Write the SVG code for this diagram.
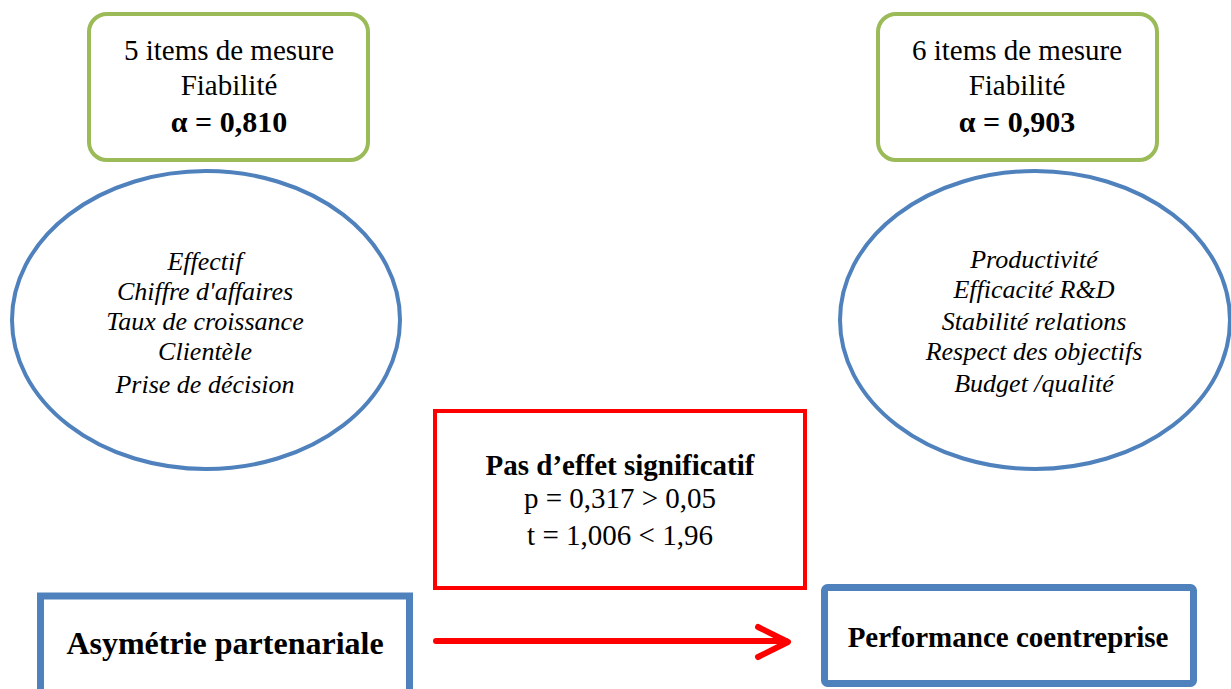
<svg xmlns="http://www.w3.org/2000/svg" width="1231" height="689" viewBox="0 0 1231 689">
  <style>
    .rel { fill: #ffffff; stroke: #9bbb59; stroke-width: 4; }
    .ell { fill: #ffffff; stroke: #4f81bd; stroke-width: 4; }
    .var { fill: #ffffff; stroke: #4f81bd; stroke-width: 7; }
    .res { fill: #ffffff; stroke: #ff0000; stroke-width: 4; }
    text { font-family: "Liberation Serif", "Times New Roman", serif; fill: #000000; text-anchor: middle; }
    .t { font-size: 29px; }
    .b { font-size: 29px; font-weight: bold; }
    .a { font-size: 30px; font-weight: bold; }
    .i { font-size: 26px; font-style: italic; }
    .big { font-size: 32px; font-weight: bold; }
    .mid { font-size: 29px; font-weight: bold; }
    .link { fill: none; stroke: #ff0000; stroke-width: 6; stroke-linecap: round; stroke-linejoin: round; }
  </style>

  <g id="fiabilite-asymetrie">
    <rect class="rel" x="89" y="14" width="279" height="146" rx="18"/>
    <text class="t" x="229" y="60">5 items de mesure</text>
    <text class="t" x="229" y="95">Fiabilité</text>
    <text class="a" x="229" y="132">α = 0,810</text>
  </g>

  <g id="fiabilite-performance">
    <rect class="rel" x="878" y="14" width="279" height="146" rx="18"/>
    <text class="t" x="1017" y="60">6 items de mesure</text>
    <text class="t" x="1017" y="95">Fiabilité</text>
    <text class="a" x="1017" y="132">α = 0,903</text>
  </g>

  <g id="items-asymetrie">
    <ellipse class="ell" cx="206" cy="320" rx="194" ry="149"/>
    <text class="i" x="205" y="270">Effectif</text>
    <text class="i" x="205" y="300">Chiffre d'affaires</text>
    <text class="i" x="205" y="330">Taux de croissance</text>
    <text class="i" x="205" y="360">Clientèle</text>
    <text class="i" x="205" y="393">Prise de décision</text>
  </g>

  <g id="items-performance">
    <ellipse class="ell" cx="1035" cy="320" rx="195" ry="149"/>
    <text class="i" x="1034" y="268">Productivité</text>
    <text class="i" x="1034" y="298">Efficacité R&amp;D</text>
    <text class="i" x="1034" y="330">Stabilité relations</text>
    <text class="i" x="1034" y="360">Respect des objectifs</text>
    <text class="i" x="1034" y="392">Budget /qualité</text>
  </g>

  <g id="resultat">
    <rect class="res" x="435" y="411" width="370" height="177"/>
    <text class="b" x="620" y="475">Pas d’effet significatif</text>
    <text class="t" x="620" y="508">p = 0,317 &gt; 0,05</text>
    <text class="t" x="620" y="545">t = 1,006 &lt; 1,96</text>
  </g>

  <g id="asymetrie">
    <rect class="var" x="40.5" y="596" width="369" height="100"/>
    <text class="big" x="225" y="654">Asymétrie partenariale</text>
  </g>

  <g id="performance">
    <rect class="var" x="824.5" y="587.5" width="369" height="96" rx="3"/>
    <text class="mid" x="1008" y="647">Performance coentreprise</text>
  </g>

  <g id="connectors">
    <path class="link" d="M436 641 H786"/>
    <path class="link" d="M758 627 L788 642 L758 657"/>
  </g>
</svg>
